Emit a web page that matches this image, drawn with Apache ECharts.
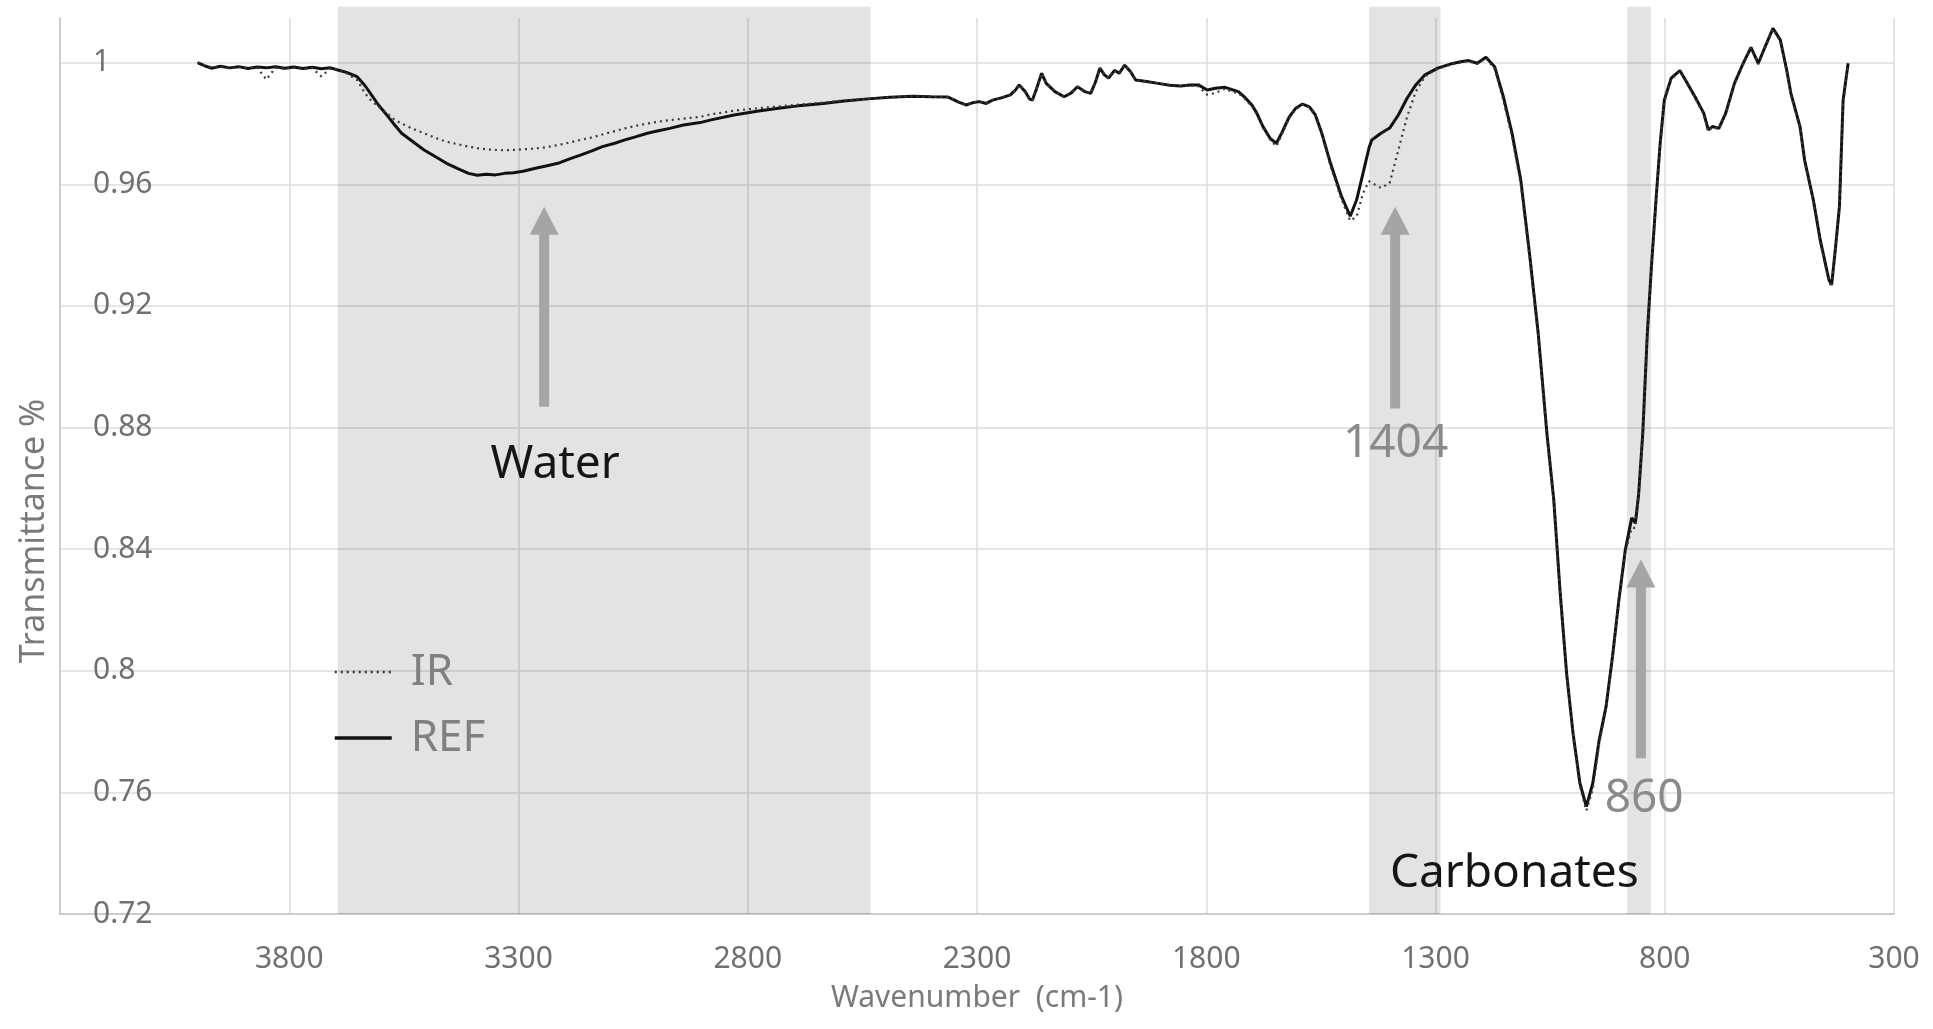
<!DOCTYPE html>
<html><head><meta charset="utf-8">
<script src="https://cdn.jsdelivr.net/npm/echarts@6/dist/echarts.min.js"></script>
<style>html,body{margin:0;padding:0;background:#fff}#c{width:1933px;height:1029px}</style>
</head><body><div id="c"></div>
<script>
// ---- data ----
const wavenumbers = [4000,3985,3970,3950,3930,3910,3890,3870,3850,3830,3810,3790,3770,3750,3730,3710,3694,3675,3652,3635,3623,3605,3584,3570,3555,3530,3506,3480,3457,3430,3409,3390,3370,3350,3330,3311,3290,3263,3240,3214,3190,3165,3140,3117,3090,3068,3045,3019,2995,2970,2940,2904,2880,2830,2780,2733,2690,2635,2590,2538,2490,2441,2400,2363,2340,2324,2310,2295,2280,2266,2245,2227,2215,2208,2195,2185,2179,2170,2159,2149,2130,2110,2095,2081,2065,2052,2042,2032,2022,2013,2000,1990,1978,1965,1954,1930,1905,1880,1856,1835,1817,1798,1780,1759,1745,1730,1715,1700,1690,1676,1660,1647,1635,1619,1605,1590,1575,1562,1548,1529,1505,1486,1472,1458,1445,1439,1419,1400,1381,1362,1343,1323,1295,1266,1245,1228,1209,1190,1171,1152,1133,1114,1095,1076,1057,1042,1028,1014,1000,985,971,957,943,928,914,900,886,872,864,857,848,838,829,819,810,801,786,767,753,734,715,705,696,682,667,648,629,612,596,581,564,548,534,525,505,495,476,461,442,436,428,419,411,400];
const refT = [1.0000,0.9990,0.9982,0.9988,0.9983,0.9987,0.9981,0.9986,0.9983,0.9987,0.9982,0.9986,0.9981,0.9985,0.9980,0.9983,0.9976,0.9968,0.9954,0.9925,0.9899,0.9860,0.9822,0.9795,0.9768,0.9740,0.9713,0.9690,0.9669,0.9650,0.9636,0.9630,0.9633,0.9631,0.9636,0.9638,0.9643,0.9653,0.9660,0.9669,0.9683,0.9696,0.9710,0.9724,0.9735,0.9746,0.9756,0.9768,0.9776,0.9784,0.9795,0.9803,0.9812,0.9828,0.9840,0.9850,0.9858,0.9866,0.9874,0.9881,0.9886,0.9890,0.9888,0.9887,0.9870,0.9861,0.9868,0.9872,0.9866,0.9877,0.9885,0.9894,0.9912,0.9927,0.9905,0.9880,0.9877,0.9915,0.9965,0.9932,0.9905,0.9888,0.9900,0.9921,0.9905,0.9899,0.9935,0.9982,0.9960,0.9949,0.9975,0.9965,0.9992,0.9970,0.9943,0.9938,0.9932,0.9926,0.9923,0.9927,0.9927,0.9910,0.9916,0.9919,0.9912,0.9905,0.9885,0.9860,0.9835,0.9789,0.9750,0.9735,0.9770,0.9822,0.9850,0.9864,0.9855,0.9828,0.9768,0.9669,0.9560,0.9495,0.9549,0.9637,0.9720,0.9746,0.9768,0.9785,0.9828,0.9883,0.9927,0.9960,0.9982,0.9996,1.0003,1.0007,0.9998,1.0018,0.9987,0.9888,0.9768,0.9614,0.9373,0.9110,0.8781,0.8561,0.8255,0.7991,0.7794,0.7630,0.7553,0.7630,0.7772,0.7882,0.8046,0.8233,0.8398,0.8503,0.8486,0.8580,0.8780,0.9110,0.9330,0.9550,0.9735,0.9877,0.9949,0.9974,0.9938,0.9888,0.9834,0.9779,0.9790,0.9784,0.9834,0.9932,0.9998,1.0050,0.9998,1.0053,1.0113,1.0075,0.9976,0.9900,0.9790,0.9680,0.9549,0.9418,0.9286,0.9270,0.9385,0.9527,0.9877,0.9998];
const irT = [1.0000,0.9992,0.9985,0.9986,0.9982,0.9985,0.9983,0.9984,0.9945,0.9983,0.9980,0.9984,0.9979,0.9982,0.9955,0.9981,0.9978,0.9965,0.9943,0.9900,0.9878,0.9855,0.9830,0.9812,0.9800,0.9782,0.9768,0.9752,0.9740,0.9731,0.9724,0.9719,0.9715,0.9713,0.9712,0.9713,0.9715,0.9718,0.9722,0.9729,0.9737,0.9746,0.9754,0.9764,0.9775,0.9784,0.9792,0.9800,0.9806,0.9811,0.9816,0.9822,0.9830,0.9842,0.9850,0.9856,0.9862,0.9869,0.9876,0.9881,0.9886,0.9890,0.9888,0.9887,0.9870,0.9861,0.9868,0.9872,0.9866,0.9877,0.9885,0.9894,0.9912,0.9927,0.9905,0.9880,0.9877,0.9915,0.9965,0.9932,0.9905,0.9888,0.9900,0.9921,0.9905,0.9899,0.9935,0.9982,0.9960,0.9949,0.9975,0.9965,0.9992,0.9970,0.9943,0.9938,0.9932,0.9926,0.9923,0.9925,0.9922,0.9895,0.9900,0.9915,0.9905,0.9900,0.9880,0.9855,0.9830,0.9785,0.9745,0.9725,0.9765,0.9818,0.9848,0.9862,0.9853,0.9825,0.9765,0.9660,0.9550,0.9480,0.9494,0.9571,0.9610,0.9605,0.9588,0.9604,0.9713,0.9822,0.9905,0.9955,0.9980,0.9994,1.0001,1.0005,0.9996,1.0015,0.9980,0.9875,0.9755,0.9600,0.9360,0.9100,0.8770,0.8550,0.8245,0.7985,0.7785,0.7620,0.7540,0.7610,0.7760,0.7875,0.8040,0.8225,0.8390,0.8470,0.8470,0.8570,0.8775,0.9105,0.9325,0.9545,0.9730,0.9870,0.9945,0.9972,0.9935,0.9885,0.9830,0.9775,0.9788,0.9782,0.9830,0.9928,0.9995,1.0048,0.9995,1.0050,1.0110,1.0070,0.9970,0.9895,0.9785,0.9675,0.9545,0.9410,0.9280,0.9262,0.9380,0.9520,0.9870,0.9995];
const seriesNames = ['IR', 'REF'];
// shaded regions [from, to] in cm-1, plus their top value
const bandRanges = [[3694, 2532], [1445, 1289], [882, 830]];
const bandTop = 1.0184;
// arrows: [wavenumber, tail value, tip value]
const arrowX = [3244, 1388, 852];
const arrowTail = [0.8868, 0.8863, 0.7712];
const arrowTip = [0.9526, 0.9526, 0.8366];
// annotation labels
const noteText = ['Water', '1404', 'Carbonates', '860'];
const noteX = [3220, 1387, 1128, 845];
const noteY = [0.8678, 0.8747, 0.7331, 0.7577];
const noteDark = [true, false, true, false];
// axes
const xMin = 300, xMax = 4300, xStep = 500;
const yMin = 0.72, yMax = 1.0147, yStep = 0.04;

const FONT = '"Noto Sans", "Open Sans", sans-serif';
const chart = echarts.init(document.getElementById('c'), null, {renderer: 'canvas'});

const refData = wavenumbers.map((w, i) => [w, refT[i]]);
const irData = wavenumbers.map((w, i) => [w, irT[i]]);

chart.setOption({
  animation: false,
  backgroundColor: '#ffffff',
  grid: {left: 60, right: 39, top: 18, bottom: 115, containLabel: false},
  legend: {
    data: [
      {name: seriesNames[0], lineStyle: {width: 2.4, color: '#333333', type: [2, 4]}},
      {name: seriesNames[1], lineStyle: {width: 3.5, color: '#111111', type: 'solid'}}
    ],
    orient: 'vertical',
    left: 328, top: 645,
    itemWidth: 57, itemHeight: 14, itemGap: 22,
    itemStyle: {opacity: 0},
    textStyle: {fontFamily: FONT, fontSize: 44, color: '#808080', padding: [0, 0, 0, 14]},
    selectedMode: false
  },
  xAxis: {
    type: 'value', inverse: true, min: xMin, max: xMax, interval: xStep,
    name: 'Wavenumber  (cm-1)', nameLocation: 'middle', nameGap: 69,
    nameTextStyle: {fontFamily: FONT, fontSize: 30, color: '#7a7a7a'},
    axisLine: {show: true, lineStyle: {color: '#c4c4c4', width: 1.5}},
    axisTick: {show: false},
    axisLabel: {fontFamily: FONT, fontSize: 30, color: '#707070', margin: 30, showMaxLabel: false,
      formatter: v => String(v)},
    splitLine: {show: true, lineStyle: {color: '#dcdcdc', width: 1.5}}
  },
  yAxis: {
    type: 'value', min: yMin, max: yMax, interval: yStep,
    name: 'Transmittance %', nameLocation: 'middle', nameGap: 9, nameRotate: 90,
    nameTextStyle: {fontFamily: FONT, fontSize: 34, color: '#7a7a7a', padding: [0, 130, 0, 0]},
    axisLine: {show: true, lineStyle: {color: '#c4c4c4', width: 1.5}},
    axisTick: {show: false},
    axisLabel: {inside: true, margin: 33, fontFamily: FONT, fontSize: 30, color: '#707070',
      showMaxLabel: false,
      formatter: v => String(parseFloat(v.toFixed(2)))},
    splitLine: {show: true, showMaxLine: false, lineStyle: {color: '#dcdcdc', width: 1.5}}
  },
  series: [
    {
      type: 'custom', name: 'bands', silent: true, clip: false, z: 1,
      data: bandRanges.map(b => [b[0], b[1]]),
      encode: {x: [0, 1]},
      renderItem: (params, api) => {
        const a = api.coord([api.value(0), bandTop]);
        const b = api.coord([api.value(1), yMin]);
        return {type: 'rect', shape: {x: Math.min(a[0], b[0]), y: a[1], width: Math.abs(b[0] - a[0]), height: b[1] - a[1]},
          style: {fill: 'rgba(0,0,0,0.11)'}};
      }
    },
    {
      name: 'REF', type: 'line', data: refData, symbol: 'none', z: 3,
      lineStyle: {color: '#111111', width: 3}, itemStyle: {color: '#111111'}
    },
    {
      name: 'IR', type: 'line', data: irData, symbol: 'none', z: 4,
      lineStyle: {color: '#3a3a3a', width: 2.2, type: [2, 4]}, itemStyle: {color: '#3a3a3a'}
    },
    {
      type: 'custom', name: 'arrows', silent: true, clip: false, z: 5,
      data: arrowX.map((x, i) => [x, arrowTail[i], arrowTip[i]]),
      renderItem: (params, api) => {
        const t = api.coord([api.value(0), api.value(1)]);
        const h = api.coord([api.value(0), api.value(2)]);
        const headLen = 28, headW = 29, shaftW = 10;
        return {type: 'group', children: [
          {type: 'rect', shape: {x: t[0] - shaftW / 2, y: h[1] + headLen - 1, width: shaftW, height: t[1] - h[1] - headLen + 1},
            style: {fill: '#a5a5a5'}},
          {type: 'polygon', shape: {points: [[h[0], h[1]], [h[0] - headW / 2, h[1] + headLen], [h[0] + headW / 2, h[1] + headLen]]},
            style: {fill: '#a5a5a5'}}
        ]};
      }
    },
    {
      type: 'custom', name: 'notes', silent: true, clip: false, z: 6,
      data: noteX.map((x, i) => [x, noteY[i], i]),
      renderItem: (params, api) => {
        const p = api.coord([api.value(0), api.value(1)]);
        const i = api.value(2);
        return {type: 'text', x: p[0], y: p[1],
          style: {text: noteText[i], fontFamily: FONT, fontSize: 46, fill: noteDark[i] ? '#151515' : '#8a8a8a',
            align: 'center', verticalAlign: 'middle'}};
      }
    }
  ]
});
</script></body></html>
